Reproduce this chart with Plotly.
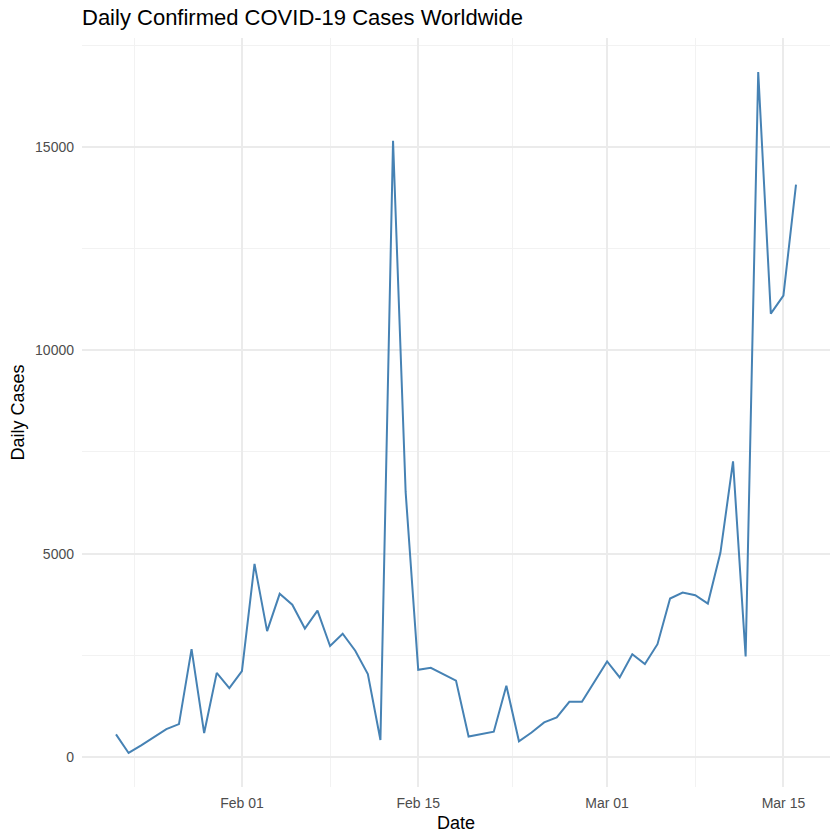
import pandas as pd
import plotly.graph_objects as go

dates = pd.date_range("2020-01-22", "2020-03-16", freq="D")
daily_cases = [
    555, 99, 287, 493, 684, 809, 2651, 588, 2068, 1693,
    2111, 4749, 3094, 4011, 3743, 3159, 3597, 2729, 3030, 2612,
    2040, 419, 15152, 6517, 2145, 2194, 2034, 1878, 503, 558,
    621, 1753, 386, 603, 850, 974, 1357, 1357, 1850,
    2349, 1956, 2528, 2283, 2774, 3895, 4042, 3977, 3773, 5025,
    7267, 2472, 16841, 10900, 11342, 14075,
]
x_ticks = ["2020-02-01", "2020-02-15", "2020-03-01", "2020-03-15"]
x_tick_labels = ["Feb 01", "Feb 15", "Mar 01", "Mar 15"]
x_minor = ["2020-01-23 12:00", "2020-02-08", "2020-02-22 12:00", "2020-03-08"]
y_ticks = [0, 5000, 10000, 15000]
y_tick_labels = ["0", "5000", "10000", "15000"]

span_days = (dates[-1] - dates[0]) / pd.Timedelta(days=1)
pad = pd.Timedelta(days=span_days * 0.05)
ymin, ymax = min(daily_cases), max(daily_cases)
ypad = (ymax - ymin) * 0.05

fig = go.Figure()
fig.add_trace(go.Scatter(
    x=dates, y=daily_cases, mode="lines",
    line=dict(color="#4682B4", width=2),
    showlegend=False,
))

font = "Liberation Sans, Arial, sans-serif"
fig.update_layout(
    width=840, height=840,
    margin=dict(l=82, r=10, t=38, b=53),
    paper_bgcolor="white", plot_bgcolor="white",
    font=dict(family=font, color="black"),
    title=dict(
        text="Daily Confirmed COVID-19 Cases Worldwide",
        font=dict(size=22, color="black", family=font),
        x=82/840, xref="container", xanchor="left",
        y=1 - 17/840, yref="container", yanchor="middle",
        automargin=False,
    ),
    xaxis=dict(
        range=[dates[0] - pad, dates[-1] + pad],
        tickmode="array", tickvals=x_ticks, ticktext=x_tick_labels,
        tickfont=dict(size=14, color="#4D4D4D", family=font),
        ticks="", ticklabelstandoff=6,
        showgrid=True, gridcolor="#EBEBEB", gridwidth=2,
        zeroline=False, showline=False, automargin=False,
        minor=dict(tickmode="array", tickvals=x_minor, showgrid=True,
                   gridcolor="#F2F2F2", gridwidth=1, ticks=""),
        title=dict(text="Date", font=dict(size=18, color="black", family=font), standoff=6),
    ),
    yaxis=dict(
        range=[ymin - ypad, ymax + ypad],
        tickmode="array", tickvals=y_ticks, ticktext=y_tick_labels,
        tickfont=dict(size=14, color="#4D4D4D", family=font),
        ticks="", ticklabelstandoff=7,
        showgrid=True, gridcolor="#EBEBEB", gridwidth=2,
        zeroline=False, showline=False, automargin=False,
        minor=dict(dtick=2500, tick0=0, showgrid=True,
                   gridcolor="#F2F2F2", gridwidth=1, ticks=""),
        title=dict(text="Daily Cases", font=dict(size=18, color="black", family=font), standoff=5),
    ),
)

fig.write_html("out.html", config={"displayModeBar": False},
               post_script="document.body.style.margin='0';")
